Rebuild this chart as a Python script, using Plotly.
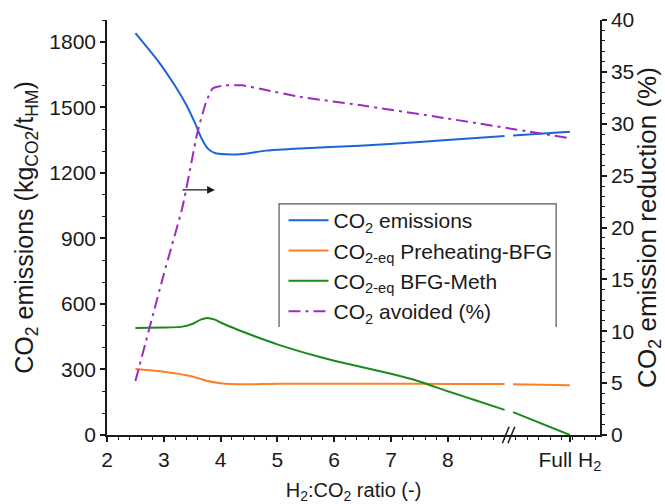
import plotly.graph_objects as go

# H2:CO2 ratio positions (the "Full H2" case sits past the axis break)
full_h2 = 10.15
axis_break = 9.07

# CO2 emissions (kg CO2 / t HM)
em_x = [2.5, 2.9, 3.2, 3.4, 3.55, 3.67, 3.78, 3.9, 4.1, 4.4, 4.8, 5.4, 6.45, 7.5, 8.5, 9.0, None, 9.15, full_h2]
em_y = [1840, 1712, 1598, 1510, 1428, 1355, 1310, 1291, 1285, 1287, 1302, 1312, 1324, 1342, 1360, 1369, None, 1371, 1388]

# CO2-eq Preheating-BFG (kg CO2 / t HM)
pre_x = [2.5, 3.0, 3.5, 3.75, 4.0, 4.4, 5.0, 6.0, 7.0, 8.0, 9.0, None, 9.15, full_h2]
pre_y = [302, 290, 268, 248, 237, 232, 235, 235, 235, 234, 233, None, 232, 228]

# CO2-eq BFG-Meth (kg CO2 / t HM)
meth_x = [2.5, 3.0, 3.3, 3.5, 3.65, 3.76, 3.9, 4.0, 4.3, 4.6, 5.0, 5.5, 6.0, 6.5, 7.0, 7.5, 8.0, 8.5, 9.0, None, 9.15, full_h2]
meth_y = [490, 492, 495, 508, 528, 536, 528, 515, 482, 452, 415, 375, 340, 310, 280, 245, 200, 158, 115, None, 105, 0]

# CO2 avoided (%)
avo_x = [2.5, 3.0, 3.33, 3.59, 3.74, 3.86, 4.09, 4.38, 4.8, 5.39, 6.45, 8.0, full_h2]
avo_y = [5.2, 15.5, 22.0, 29.1, 32.0, 33.4, 33.7, 33.7, 33.25, 32.6, 31.8, 30.5, 28.6]

x_tickvals = [2, 3, 4, 5, 6, 7, 8, full_h2]
x_ticktext = ["2", "3", "4", "5", "6", "7", "8", "Full H<sub>2</sub>"]

FONT = "Liberation Sans, Arial, sans-serif"
INK = "#1a1a1a"

fig = go.Figure()
fig.add_trace(go.Scatter(x=em_x, y=em_y, mode="lines", name="CO<sub>2</sub> emissions",
                         line=dict(color="#1a66d6", width=2, shape="spline", smoothing=0.6),
                         connectgaps=False))
fig.add_trace(go.Scatter(x=pre_x, y=pre_y, mode="lines", name="CO<sub>2-eq</sub> Preheating-BFG",
                         line=dict(color="#ff7f27", width=2, shape="spline", smoothing=0.5),
                         connectgaps=False))
fig.add_trace(go.Scatter(x=meth_x, y=meth_y, mode="lines", name="CO<sub>2-eq</sub> BFG-Meth",
                         line=dict(color="#1b8a1b", width=2, shape="spline", smoothing=0.5),
                         connectgaps=False))
fig.add_trace(go.Scatter(x=avo_x, y=avo_y, mode="lines", name="CO<sub>2</sub> avoided (%)",
                         yaxis="y2",
                         line=dict(color="#9e2ac2", width=2, dash="12px,5px,3px,5px",
                                   shape="spline", smoothing=0.5)))

axis_common = dict(showline=True, linecolor=INK, linewidth=1.5, ticks="outside",
                   ticklen=5, tickwidth=1.5, tickcolor=INK, showgrid=False, zeroline=False,
                   tickfont=dict(family=FONT, size=21, color=INK))

fig.update_layout(
    width=665, height=504,
    margin=dict(l=107, r=65, t=20, b=69, autoexpand=False),
    paper_bgcolor="white", plot_bgcolor="white",
    font=dict(family=FONT, color=INK),
    xaxis=dict(range=[2, 10.68], tickmode="array", tickvals=x_tickvals, ticktext=x_ticktext,
               minor=dict(tickmode="linear", tick0=2, dtick=0.2, ticks="outside", ticklen=3,
                          tickwidth=1.2, tickcolor=INK),
               title=dict(text="H<sub>2</sub>:CO<sub>2</sub> ratio (-)",
                          font=dict(family=FONT, size=20, color=INK), standoff=10),
               **axis_common),
    yaxis=dict(range=[0, 1900], tick0=0, dtick=300,
               minor=dict(dtick=100, ticks="outside", ticklen=3, tickwidth=1.2, tickcolor=INK),
               title=dict(text="CO<sub>2</sub> emissions (kg<sub>CO2</sub>/t<sub>HM</sub>)",
                          font=dict(family=FONT, size=25, color=INK), standoff=9),
               **axis_common),
    yaxis2=dict(range=[0, 40], tick0=0, dtick=5, overlaying="y", side="right",
                minor=dict(dtick=1, ticks="outside", ticklen=3, tickwidth=1.2, tickcolor=INK),
                title=dict(text="CO<sub>2</sub> emission reduction (%)",
                           font=dict(family=FONT, size=26, color=INK), standoff=6),
                **axis_common),
    legend=dict(x=0.358, y=0.566, xanchor="left", yanchor="top",
                bgcolor="rgba(0,0,0,0)", font=dict(family=FONT, size=21, color=INK),
                tracegroupgap=0, itemwidth=40),
    showlegend=True,
)

# legend frame (open at the bottom)
fig.add_shape(type="path", xref="paper", yref="paper",
              path="M 0.349 0.26 L 0.349 0.557 L 0.911 0.557 L 0.911 0.26",
              line=dict(color="#555555", width=1.2))

# axis break marks on the x axis
for dx in (-0.05, 0.05):
    fig.add_shape(type="line", xref="x", yref="paper",
                  x0=axis_break + dx - 0.06, x1=axis_break + dx + 0.06,
                  y0=-0.02, y1=0.02, line=dict(color=INK, width=1.5))

# arrow pointing the dash-dot curve to the right-hand axis
fig.add_annotation(x=3.9, y=1122, xref="x", yref="y", ax=-34, ay=0,
                   showarrow=True, arrowhead=2, arrowsize=1.2, arrowwidth=1.3,
                   arrowcolor=INK, text="")

fig.write_html("out.html")
